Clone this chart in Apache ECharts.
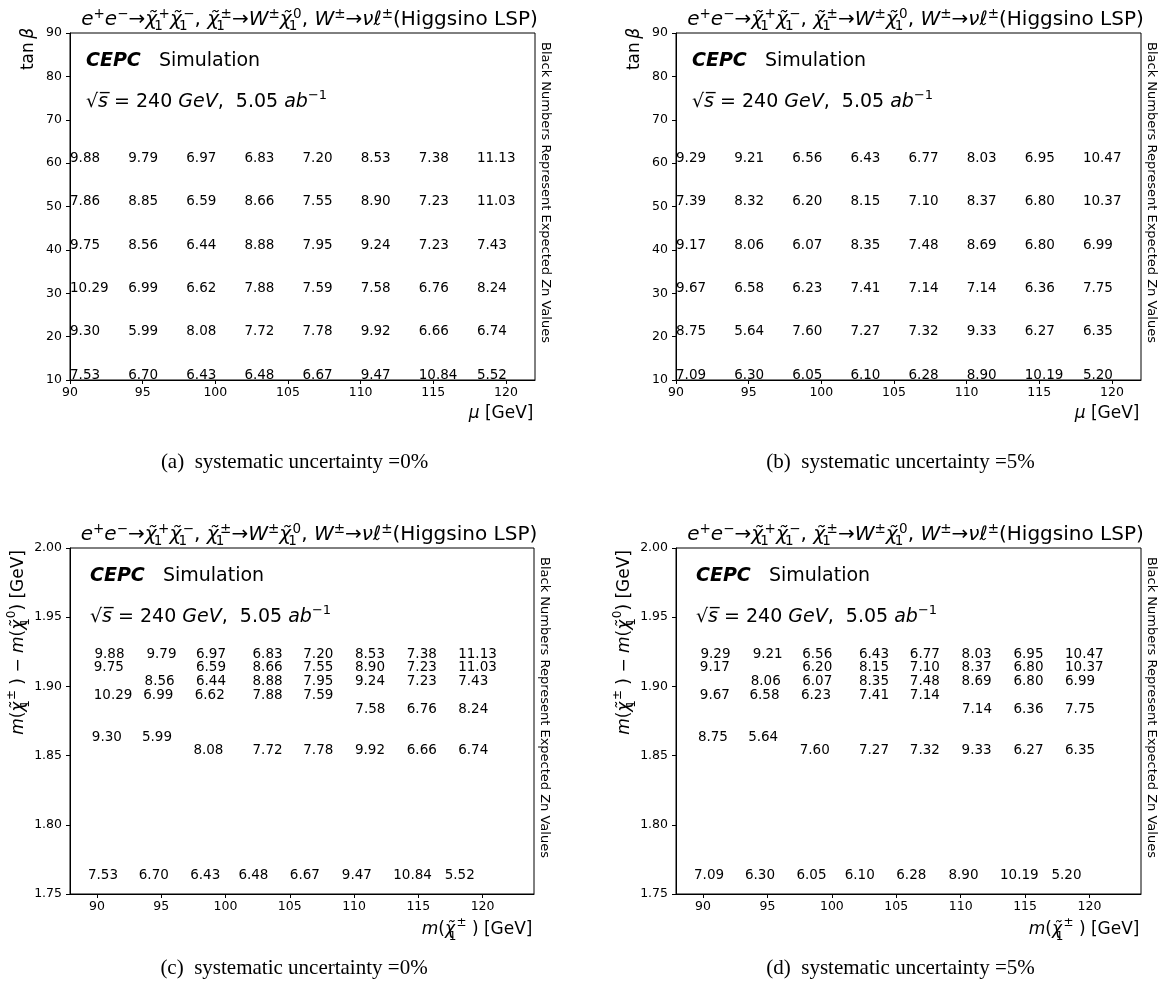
<!DOCTYPE html>
<html><head><meta charset="utf-8">
<script src="https://cdn.jsdelivr.net/npm/echarts@6/dist/echarts.min.js"></script>
<style>html,body{margin:0;padding:0;background:#fff}#main{width:1162px;height:983px}</style>
</head><body><div id="main"></div>
<script>
// ---------------- data ----------------
const muValues = [90, 94, 98, 102, 106, 110, 114, 118];
const tanbValues = [60, 50, 40, 30, 20, 10];

// Expected Zn, systematic uncertainty 0% (rows: tanb 60..10, cols: mu 90..118)
const znSys0 = [
  [9.88, 9.79, 6.97, 6.83, 7.20, 8.53, 7.38, 11.13],
  [7.86, 8.85, 6.59, 8.66, 7.55, 8.90, 7.23, 11.03],
  [9.75, 8.56, 6.44, 8.88, 7.95, 9.24, 7.23, 7.43],
  [10.29, 6.99, 6.62, 7.88, 7.59, 7.58, 6.76, 8.24],
  [9.30, 5.99, 8.08, 7.72, 7.78, 9.92, 6.66, 6.74],
  [7.53, 6.70, 6.43, 6.48, 6.67, 9.47, 10.84, 5.52]
];
// Expected Zn, systematic uncertainty 5%
const znSys5 = [
  [9.29, 9.21, 6.56, 6.43, 6.77, 8.03, 6.95, 10.47],
  [7.39, 8.32, 6.20, 8.15, 7.10, 8.37, 6.80, 10.37],
  [9.17, 8.06, 6.07, 8.35, 7.48, 8.69, 6.80, 6.99],
  [9.67, 6.58, 6.23, 7.41, 7.14, 7.14, 6.36, 7.75],
  [8.75, 5.64, 7.60, 7.27, 7.32, 9.33, 6.27, 6.35],
  [7.09, 6.30, 6.05, 6.10, 6.28, 8.90, 10.19, 5.20]
];
// chargino mass [GeV] for each (tanb, mu) point (null: not shown)
const charginoMass = [
  [89.8, 93.85, 97.7, 102.1, 106.05, 110.07, 114.1, 118.1],
  [null, null, 97.7, 102.1, 106.05, 110.07, 114.1, 118.1],
  [89.75, 93.7, 97.7, 102.1, 106.05, 110.07, 114.1, 118.1],
  [89.75, 93.6, 97.6, 102.1, 106.05, 110.1, 114.1, 118.1],
  [89.6, 93.5, 97.5, 102.1, 106.05, 110.07, 114.1, 118.1],
  [89.3, 93.25, 97.25, 101.0, 105.0, 109.05, 113.05, 117.05]
];
// mass splitting m(chi1+-) - m(chi10) [GeV]
const massSplitting = [
  [1.92, 1.92, 1.92, 1.92, 1.92, 1.92, 1.92, 1.92],
  [null, null, 1.91, 1.91, 1.91, 1.91, 1.91, 1.91],
  [1.91, 1.90, 1.90, 1.90, 1.90, 1.90, 1.90, 1.90],
  [1.89, 1.89, 1.89, 1.89, 1.89, 1.88, 1.88, 1.88],
  [1.86, 1.86, 1.85, 1.85, 1.85, 1.85, 1.85, 1.85],
  [1.76, 1.76, 1.76, 1.76, 1.76, 1.76, 1.76, 1.76]
];
const muTicks = [90, 95, 100, 105, 110, 115, 120];
const tanbTicks = [10, 20, 30, 40, 50, 60, 70, 80, 90];
const massTicks = [90, 95, 100, 105, 110, 115, 120];
const dmTicks = [1.75, 1.80, 1.85, 1.90, 1.95, 2.00];
const captions = ['(a)  systematic uncertainty =0%', '(b)  systematic uncertainty =5%',
                  '(c)  systematic uncertainty =0%', '(d)  systematic uncertainty =5%'];

// ---------------- layout ----------------
const FF = "'DejaVu Sans', sans-serif";
const grids = [
  {left: 70, top: 33, width: 465, height: 347},
  {left: 676, top: 33, width: 465, height: 347},
  {left: 70, top: 548, width: 464, height: 346},
  {left: 676, top: 548, width: 465, height: 346}
];

function gridPoints(zn) {
  const out = [];
  tanbValues.forEach((tb, r) => muValues.forEach((mu, c) => out.push([mu, tb, zn[r][c]])));
  return out;
}
function massPoints(zn) {
  const out = [];
  tanbValues.forEach((tb, r) => muValues.forEach((mu, c) => {
    if (charginoMass[r][c] != null) out.push([charginoMass[r][c], massSplitting[r][c], zn[r][c]]);
  }));
  return out;
}

function rich(base, small) {
  const lh = 26;
  return {
    n: {fontSize: base, fontFamily: FF, fill: '#000', lineHeight: lh},
    i: {fontSize: base, fontFamily: FF, fontStyle: 'italic', fill: '#000', lineHeight: lh},
    b: {fontSize: base, fontFamily: FF, fontStyle: 'italic', fontWeight: 'bold', fill: '#000', lineHeight: lh},
    p: {fontSize: small, fontFamily: FF, fill: '#000', lineHeight: small, verticalAlign: 'top'},
    s: {fontSize: small, fontFamily: FF, fill: '#000', lineHeight: small, verticalAlign: 'bottom',
        width: 0.01, padding: [0, 0, 0, 1.5]}
  };
}
const CHI = '\u03C7\u0303';
const titleText = '{i|e}{p|+}{i|e}{p|\u2212}{n|\u2192}{i|' + CHI + '}{s|1}{p|+}{i|' + CHI + '}{s|1}{p|\u2212}{n|, }' +
  '{i|' + CHI + '}{s|1}{p|\u00B1}{n|\u2192}{i|W}{p|\u00B1}{i|' + CHI + '}{s|1}{p|0}{n|, }' +
  '{i|W}{p|\u00B1}{n|\u2192}{i|\u03BD\u2113}{p|\u00B1}{n|(Higgsino LSP)}';
const cepcText = '{b|CEPC}{n|   Simulation}';
const lumiText = '{n|\u221A}{i|s\u0305}{n| = 240 }{i|GeV}{n|,  5.05 }{i|ab}{p|\u22121}';
const sideText = 'Black Numbers Represent Expected Zn Values';
const xNames = ['{i|\u03BC}{n| [GeV]}', '{i|\u03BC}{n| [GeV]}',
  '{i|m}{n|(}{i|' + CHI + '}{s|1}{p|\u00B1}{n| ) [GeV]}', '{i|m}{n|(}{i|' + CHI + '}{s|1}{p|\u00B1}{n| ) [GeV]}'];
const yNameTop = '{n|tan\u2009}{i|\u03B2}';
const yNameBottom = '{i|m}{n|(}{i|' + CHI + '}{s|1}{p|\u00B1}{n| ) \u2212 }{i|m}{n|(}{i|' + CHI + '}{s|1}{p|0}{n|) [GeV]}';

const graphic = [];
grids.forEach((g, k) => {
  const right = g.left + g.width, bottom = g.top + g.height;
  const bottomRow = k >= 2;
  graphic.push({type: 'text', silent: true, x: g.left + g.width / 2 + 7, y: g.top - 13,
    style: {text: titleText, rich: rich(20, 13.5), align: 'center', verticalAlign: 'middle'}});
  graphic.push({type: 'text', silent: true, x: g.left + (bottomRow ? 20 : 16), y: g.top + 27.7,
    style: {text: cepcText, rich: rich(19, 13), align: 'left', verticalAlign: 'middle'}});
  graphic.push({type: 'text', silent: true, x: g.left + (bottomRow ? 20 : 16), y: g.top + 68.7,
    style: {text: lumiText, rich: rich(19, 13), align: 'left', verticalAlign: 'middle'}});
  graphic.push({type: 'text', silent: true, x: right + 10, y: g.top + 9, rotation: -Math.PI / 2,
    style: {text: sideText, fontSize: 13, fontFamily: FF, fill: '#000', align: 'left', verticalAlign: 'middle'}});
  graphic.push({type: 'text', silent: true, x: right - 1.5, y: bottom + (bottomRow ? 35.5 : 33.8),
    style: {text: xNames[k], rich: rich(17, 12), align: 'right', verticalAlign: 'middle'}});
  graphic.push({type: 'text', silent: true, x: bottomRow ? g.left - 51 : g.left - 41, y: bottomRow ? g.top + 2 : g.top - 5,
    rotation: Math.PI / 2,
    style: {text: bottomRow ? yNameBottom : yNameTop, rich: rich(17, 12), align: 'right', verticalAlign: 'middle'}});
  graphic.push({type: 'text', silent: true, x: g.left + g.width / 2 - 8, y: bottomRow ? 968 : 462,
    style: {text: captions[k], fontSize: 21, fontFamily: "'Liberation Serif', 'Times New Roman', serif",
      fill: '#000', align: 'center', verticalAlign: 'middle'}});
});

function xAxis(idx, min, max, ticks) {
  return {type: 'value', gridIndex: idx, min: min, max: max,
    axisLine: {show: true, onZero: false, lineStyle: {color: '#000', width: 1}},
    axisTick: {show: true, customValues: ticks, length: 4, lineStyle: {color: '#000'}},
    axisLabel: {customValues: ticks, color: '#000', fontSize: 12.5, fontFamily: FF, margin: 6},
    splitLine: {show: false}};
}
function yAxis(idx, min, max, ticks, dec) {
  return {type: 'value', gridIndex: idx, min: min, max: max,
    axisLine: {show: true, onZero: false, lineStyle: {color: '#000', width: 1}},
    axisTick: {show: true, customValues: ticks, length: 4, lineStyle: {color: '#000'}},
    axisLabel: {customValues: ticks, color: '#000', fontSize: 12.5, fontFamily: FF, margin: 8,
      formatter: v => Number(v).toFixed(dec)},
    splitLine: {show: false}};
}
function labelSeries(idx, data) {
  return {type: 'scatter', xAxisIndex: idx, yAxisIndex: idx, symbolSize: 1, silent: true,
    itemStyle: {color: 'rgba(0,0,0,0)'}, data: data, z: 5, clip: false,
    label: {show: true, position: [0.5, -4.2], align: 'left', verticalAlign: 'middle',
      color: '#000', opacity: 1, fontSize: 13.5, fontFamily: FF,
      formatter: p => p.value[2].toFixed(2)},
    labelLayout: {hideOverlap: false}};
}

const option = {
  backgroundColor: '#fff',
  animation: false,
  grid: grids.map(g => Object.assign({show: true, borderColor: '#000', borderWidth: 1,
    backgroundColor: 'transparent', containLabel: false}, g)),
  xAxis: [xAxis(0, 90, 122, muTicks), xAxis(1, 90, 122, muTicks),
          xAxis(2, 87.9, 124, massTicks), xAxis(3, 87.9, 124, massTicks)],
  yAxis: [yAxis(0, 10, 90, tanbTicks, 0), yAxis(1, 10, 90, tanbTicks, 0),
          yAxis(2, 1.75, 2.0, dmTicks, 2), yAxis(3, 1.75, 2.0, dmTicks, 2)],
  series: [labelSeries(0, gridPoints(znSys0)), labelSeries(1, gridPoints(znSys5)),
           labelSeries(2, massPoints(znSys0)), labelSeries(3, massPoints(znSys5))],
  graphic: graphic
};
const chart = echarts.init(document.getElementById('main'), null, {renderer: 'canvas'});
chart.setOption(option);
</script></body></html>
